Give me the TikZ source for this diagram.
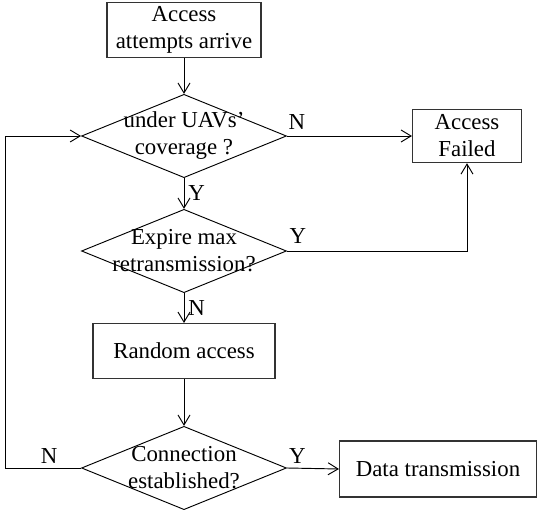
\documentclass[tikz,border=0pt]{standalone}
\usepackage{fontspec}
\setmainfont{Liberation Serif}
\usetikzlibrary{shapes.geometric,arrows.meta}
\tikzset{
  procbox/.style={draw=black!80, line width=0.9pt, minimum height=1.65cm, align=center, inner sep=2pt},
  decision/.style={diamond, draw, line width=0.8pt, minimum width=6.15cm, minimum height=2.5cm, inner sep=0pt},
  flow/.style={line width=0.8pt, -{Straight Barb[length=3mm,width=3.6mm]}}
}
\begin{document}
\begin{tikzpicture}[x=0.03cm, y=-0.03cm, font=\fontsize{19.5}{23}\selectfont]
  \useasboundingbox (0,0) rectangle (550,513);
  % boxes
  \node[procbox, minimum width=4.62cm] (arrive) at (184,30) {Access\\attempts arrive};
  \node[procbox, minimum width=3.27cm, minimum height=1.6cm] (fail) at (467,136) {Access\\Failed};
  \node[procbox, minimum width=5.46cm] (random) at (184,351) {Random access};
  \node[procbox, minimum width=5.91cm, minimum height=1.68cm] (data) at (438,469) {Data transmission};
  % decisions
  \node[decision, label={[align=center]center:{under UAVs’\\coverage ?}}] (cover) at (184,136) {};
  \node[decision, label={[align=center]center:{Expire max\\retransmission?}}] (expire) at (184,251) {};
  \node[decision, label={[align=center]center:{Connection\\established?}}] (conn) at (184,468) {};
  \coordinate (loop) at (5,468);
  % connectors
  \draw[flow] (arrive) -- (cover);
  \draw[flow] (cover.east) -- node[pos=0.08, above=2pt] {N} (fail.west);
  \draw[flow] (cover.south) -- node[midway, right] {Y} (expire.north);
  \draw[flow] (expire.east) -| node[pos=0.03, above=3pt] {Y} (fail.south);
  \draw[flow] (expire.south) -- node[midway, right] {N} (random.north);
  \draw[flow] (random) -- (conn);
  \draw[flow] (conn.east) -- node[pos=0.2, above] {Y} (data.west);
  \draw[flow] (conn.west) -- node[pos=0.42, above] {N} (loop) |- (cover.west);
\end{tikzpicture}
\end{document}
